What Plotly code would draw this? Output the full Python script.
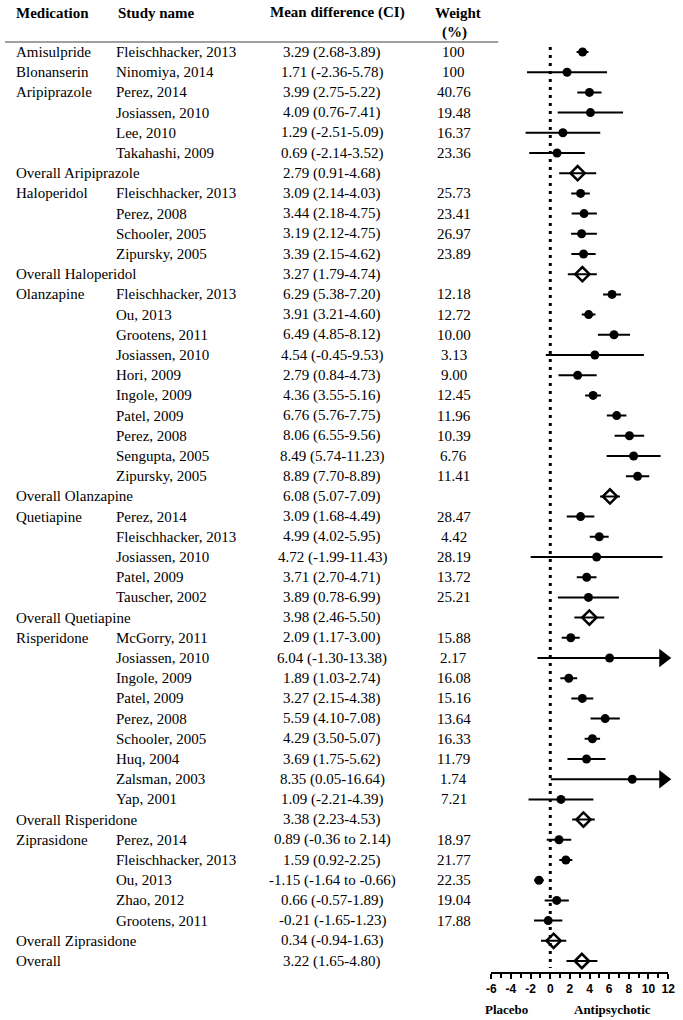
import plotly.graph_objects as go

# ---------------- data ----------------
medication = ["Amisulpride", "Blonanserin", "Aripiprazole", "", "", "", "Overall Aripiprazole",
              "Haloperidol", "", "", "", "Overall Haloperidol",
              "Olanzapine", "", "", "", "", "", "", "", "", "", "Overall Olanzapine",
              "Quetiapine", "", "", "", "", "Overall Quetiapine",
              "Risperidone", "", "", "", "", "", "", "", "", "Overall Risperidone",
              "Ziprasidone", "", "", "", "", "Overall Ziprasidone", "Overall"]

study = ["Fleischhacker, 2013", "Ninomiya, 2014", "Perez, 2014", "Josiassen, 2010", "Lee, 2010", "Takahashi, 2009", "",
         "Fleischhacker, 2013", "Perez, 2008", "Schooler, 2005", "Zipursky, 2005", "",
         "Fleischhacker, 2013", "Ou, 2013", "Grootens, 2011", "Josiassen, 2010", "Hori, 2009", "Ingole, 2009",
         "Patel, 2009", "Perez, 2008", "Sengupta, 2005", "Zipursky, 2005", "",
         "Perez, 2014", "Fleischhacker, 2013", "Josiassen, 2010", "Patel, 2009", "Tauscher, 2002", "",
         "McGorry, 2011", "Josiassen, 2010", "Ingole, 2009", "Patel, 2009", "Perez, 2008", "Schooler, 2005",
         "Huq, 2004", "Zalsman, 2003", "Yap, 2001", "",
         "Perez, 2014", "Fleischhacker, 2013", "Ou, 2013", "Zhao, 2012", "Grootens, 2011", "", ""]

md_text = ["3.29 (2.68-3.89)", "1.71 (-2.36-5.78)", "3.99 (2.75-5.22)", "4.09 (0.76-7.41)", "1.29 (-2.51-5.09)",
           "0.69 (-2.14-3.52)", "2.79 (0.91-4.68)",
           "3.09 (2.14-4.03)", "3.44 (2.18-4.75)", "3.19 (2.12-4.75)", "3.39 (2.15-4.62)", "3.27 (1.79-4.74)",
           "6.29 (5.38-7.20)", "3.91 (3.21-4.60)", "6.49 (4.85-8.12)", "4.54 (-0.45-9.53)", "2.79 (0.84-4.73)",
           "4.36 (3.55-5.16)", "6.76 (5.76-7.75)", "8.06 (6.55-9.56)", "8.49 (5.74-11.23)", "8.89 (7.70-8.89)",
           "6.08 (5.07-7.09)",
           "3.09 (1.68-4.49)", "4.99 (4.02-5.95)", "4.72 (-1.99-11.43)", "3.71 (2.70-4.71)", "3.89 (0.78-6.99)",
           "3.98 (2.46-5.50)",
           "2.09 (1.17-3.00)", "6.04 (-1.30-13.38)", "1.89 (1.03-2.74)", "3.27 (2.15-4.38)", "5.59 (4.10-7.08)",
           "4.29 (3.50-5.07)", "3.69 (1.75-5.62)", "8.35 (0.05-16.64)", "1.09 (-2.21-4.39)", "3.38 (2.23-4.53)",
           "0.89 (-0.36 to 2.14)", "1.59 (0.92-2.25)", "-1.15 (-1.64 to -0.66)", "0.66 (-0.57-1.89)",
           "-0.21 (-1.65-1.23)", "0.34 (-0.94-1.63)", "3.22 (1.65-4.80)"]

weight = ["100", "100", "40.76", "19.48", "16.37", "23.36", "",
          "25.73", "23.41", "26.97", "23.89", "",
          "12.18", "12.72", "10.00", "3.13", "9.00", "12.45", "11.96", "10.39", "6.76", "11.41", "",
          "28.47", "4.42", "28.19", "13.72", "25.21", "",
          "15.88", "2.17", "16.08", "15.16", "13.64", "16.33", "11.79", "1.74", "7.21", "",
          "18.97", "21.77", "22.35", "19.04", "17.88", "", ""]

est = [3.29, 1.71, 3.99, 4.09, 1.29, 0.69, 2.79,
       3.09, 3.44, 3.19, 3.39, 3.27,
       6.29, 3.91, 6.49, 4.54, 2.79, 4.36, 6.76, 8.06, 8.49, 8.89, 6.08,
       3.09, 4.99, 4.72, 3.71, 3.89, 3.98,
       2.09, 6.04, 1.89, 3.27, 5.59, 4.29, 3.69, 8.35, 1.09, 3.38,
       0.89, 1.59, -1.15, 0.66, -0.21, 0.34, 3.22]
lo = [2.68, -2.36, 2.75, 0.76, -2.51, -2.14, 0.91,
      2.14, 2.18, 2.12, 2.15, 1.79,
      5.38, 3.21, 4.85, -0.45, 0.84, 3.55, 5.76, 6.55, 5.74, 7.70, 5.07,
      1.68, 4.02, -1.99, 2.70, 0.78, 2.46,
      1.17, -1.30, 1.03, 2.15, 4.10, 3.50, 1.75, 0.05, -2.21, 2.23,
      -0.36, 0.92, -1.64, -0.57, -1.65, -0.94, 1.65]
hi = [3.89, 5.78, 5.22, 7.41, 5.09, 3.52, 4.68,
      4.03, 4.75, 4.75, 4.62, 4.74,
      7.20, 4.60, 8.12, 9.53, 4.73, 5.16, 7.75, 9.56, 11.23, 10.08, 7.09,
      4.49, 5.95, 11.43, 4.71, 6.99, 5.50,
      3.00, 13.38, 2.74, 4.38, 7.08, 5.07, 5.62, 16.64, 4.39, 4.53,
      2.14, 2.25, -0.66, 1.89, 1.23, 1.63, 4.80]
is_overall = [m.startswith("Overall") for m in medication]

x_ticks = [-6, -4, -2, 0, 2, 4, 6, 8, 10, 12]
x_ticktext = ["-6", "-4", "-2", "0", "2", "4", "6", "8", "10", "12"]
headers = ["Medication", "Study name", "Mean difference (CI)", "Weight", "(%)"]
side_labels = ["Placebo", "Antipsychotic"]

# ---------------- layout helpers ----------------
W, H = 683, 1020
ROW0, ROWH = 52, 20.2
XMIN, XMAX = -6, 12


def py(px):
    return 1 - px / H


def pxx(px):
    return px / W


rows = list(range(len(est)))

fig = go.Figure()

# CI lines
lx, ly = [], []
for i in rows:
    lx += [lo[i], hi[i], None]
    ly += [i, i, None]
fig.add_trace(go.Scatter(x=lx, y=ly, mode="lines", line=dict(color="black", width=2),
                         hoverinfo="skip", showlegend=False))

# study estimates
si = [i for i in rows if not is_overall[i]]
fig.add_trace(go.Scatter(x=[est[i] for i in si], y=si, mode="markers",
                         marker=dict(symbol="circle", size=9, color="black", line=dict(width=0)),
                         showlegend=False, cliponaxis=False))

# pooled diamonds
oi = [i for i in rows if is_overall[i]]
fig.add_trace(go.Scatter(x=[est[i] for i in oi], y=oi, mode="markers",
                         marker=dict(symbol="diamond-open", size=11, color="black",
                                     line=dict(width=2.5, color="black")),
                         showlegend=False, cliponaxis=False))

# arrows for CIs beyond the axis
ai = [i for i in rows if hi[i] > XMAX]
fig.add_trace(go.Scatter(x=[XMAX - 0.5 for _ in ai], y=ai, mode="markers",
                         marker=dict(symbol="triangle-right", size=16, color="black", line=dict(width=0)),
                         showlegend=False, cliponaxis=False))

FONT = "Liberation Serif"
FS = 15
ann = []
for i in rows:
    if medication[i]:
        ann.append(dict(x=pxx(9), y=i, xref="paper", yref="y", text=medication[i],
                        xanchor="left", yanchor="middle", showarrow=False))
    if study[i]:
        ann.append(dict(x=pxx(111), y=i, xref="paper", yref="y", text=study[i],
                        xanchor="left", yanchor="middle", showarrow=False))
    ann.append(dict(x=pxx(333), y=i, xref="paper", yref="y", text=md_text[i],
                    xanchor="center", yanchor="middle", showarrow=False))
    if weight[i]:
        ann.append(dict(x=pxx(457), y=i, xref="paper", yref="y", text=weight[i],
                        xanchor="center", yanchor="middle", showarrow=False))

hfont = dict(family=FONT, size=FS, color="black", weight="bold")
sfont = dict(family=FONT, size=13, color="black", weight="bold")
ann += [
    dict(x=pxx(9), y=py(13), text=headers[0], xanchor="left", font=hfont),
    dict(x=pxx(113), y=py(13), text=headers[1], xanchor="left", font=hfont),
    dict(x=pxx(338), y=py(13), text=headers[2], xanchor="center", font=hfont),
    dict(x=pxx(461), y=py(13), text=headers[3], xanchor="center", font=hfont),
    dict(x=pxx(458), y=py(32), text=headers[4], xanchor="center", font=hfont),
    dict(x=pxx(510), y=py(1009), text=side_labels[0], xanchor="center", font=sfont),
    dict(x=pxx(618), y=py(1009), text=side_labels[1], xanchor="center", font=sfont),
]
for a in ann[-7:]:
    a.update(xref="paper", yref="paper", yanchor="middle", showarrow=False)

shapes = [
    dict(type="line", xref="paper", yref="paper", x0=0, x1=pxx(502), y0=py(42), y1=py(42),
         line=dict(color="#808080", width=1.5)),
    dict(type="line", xref="x", yref="paper", x0=0, x1=0, y0=py(47), y1=py(968),
         line=dict(color="black", width=3, dash="3px,5px")),
]

fig.update_layout(
    width=W, height=H, margin=dict(l=0, r=0, t=0, b=0),
    paper_bgcolor="white", plot_bgcolor="rgba(0,0,0,0)",
    font=dict(family=FONT, size=FS, color="black"),
    annotations=ann, shapes=shapes, showlegend=False,
    xaxis=dict(domain=[pxx(495), pxx(675)], range=[XMIN, XMAX], tickvals=x_ticks, ticktext=x_ticktext,
               ticks="outside", ticklen=5, tickwidth=1.5, tickcolor="black",
               showline=True, linecolor="black", linewidth=2,
               showgrid=False, zeroline=False, anchor="free", position=py(973),
               minor=dict(dtick=1, ticks="outside", ticklen=4, tickwidth=1.5, tickcolor="black", showgrid=False),
               tickfont=dict(family="Liberation Sans", size=12, color="black", weight="bold"),
               fixedrange=True),
    yaxis=dict(domain=[0, 1], range=[(H - ROW0) / ROWH, -ROW0 / ROWH], visible=False, fixedrange=True),
)

fig.write_html("out.html", config={"displayModeBar": False},
               post_script="document.body.style.margin='0';document.body.style.overflow='hidden';")
